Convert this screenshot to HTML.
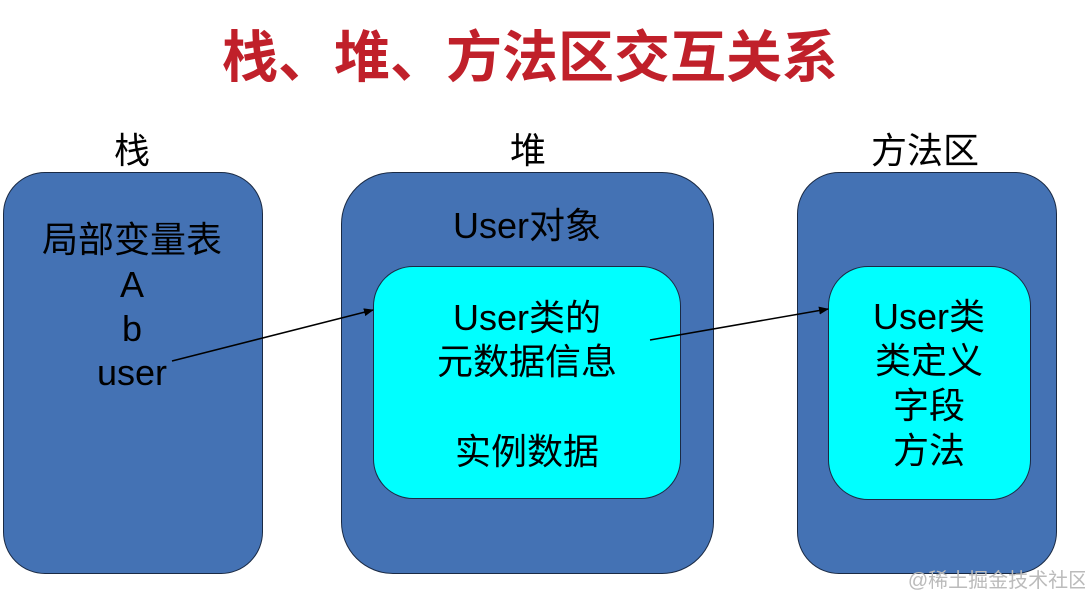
<!DOCTYPE html>
<html><head><meta charset="utf-8"><style>
body{margin:0;width:1085px;height:597px;background:#fff;position:relative;overflow:hidden;font-family:"Liberation Sans","Noto Sans CJK SC",sans-serif;}
.t{position:absolute;white-space:nowrap;transform:translate(-50%,-50%);color:#000;font-size:36px;line-height:1;}
.box{position:absolute;background:#4472b4;border:1.5px solid #1a2a44;box-sizing:border-box;}
.in{position:absolute;background:#00ffff;border:1.5px solid #1a2a44;box-sizing:border-box;border-radius:40px;}
</style></head><body>
<div class="t" style="left:530px;top:58px;font-size:56px;font-weight:bold;color:#c0202a;">栈、堆、方法区交互关系</div>
<div class="t" style="left:132px;top:151px;">栈</div>
<div class="t" style="left:528px;top:151px;">堆</div>
<div class="t" style="left:925px;top:151px;">方法区</div>
<div class="box" style="left:3px;top:172px;width:260px;height:402px;border-radius:42px;"></div>
<div class="box" style="left:341px;top:172px;width:373px;height:402px;border-radius:52px;"></div>
<div class="box" style="left:797px;top:172px;width:260px;height:402px;border-radius:42px;"></div>
<div class="in" style="left:373px;top:266px;width:308px;height:233px;"></div>
<div class="in" style="left:828px;top:266px;width:203px;height:234px;"></div>
<div class="t" style="left:132px;top:240px;">局部变量表</div>
<div class="t" style="left:132px;top:285px;">A</div>
<div class="t" style="left:132px;top:329px;">b</div>
<div class="t" style="left:132px;top:373px;">user</div>
<div class="t" style="left:527px;top:226px;">User对象</div>
<div class="t" style="left:527px;top:318px;">User类的</div>
<div class="t" style="left:527px;top:362px;">元数据信息</div>
<div class="t" style="left:527px;top:452px;">实例数据</div>
<div class="t" style="left:929px;top:317px;">User类</div>
<div class="t" style="left:929px;top:361px;">类定义</div>
<div class="t" style="left:929px;top:406px;">字段</div>
<div class="t" style="left:929px;top:451px;">方法</div>
<svg style="position:absolute;left:0;top:0" width="1085" height="597">
<defs><marker id="a" markerWidth="10" markerHeight="8" refX="9" refY="4" orient="auto" markerUnits="userSpaceOnUse"><path d="M0,0 L10,4 L0,8 z" fill="#000"/></marker></defs>
<line x1="172" y1="361" x2="373" y2="310" stroke="#000" stroke-width="1.5" marker-end="url(#a)"/>
<line x1="650" y1="340" x2="828" y2="309" stroke="#000" stroke-width="1.5" marker-end="url(#a)"/>
</svg>
<div class="t" style="left:998px;top:581px;font-size:20px;color:#bbb;">@稀土掘金技术社区</div>
</body></html>
